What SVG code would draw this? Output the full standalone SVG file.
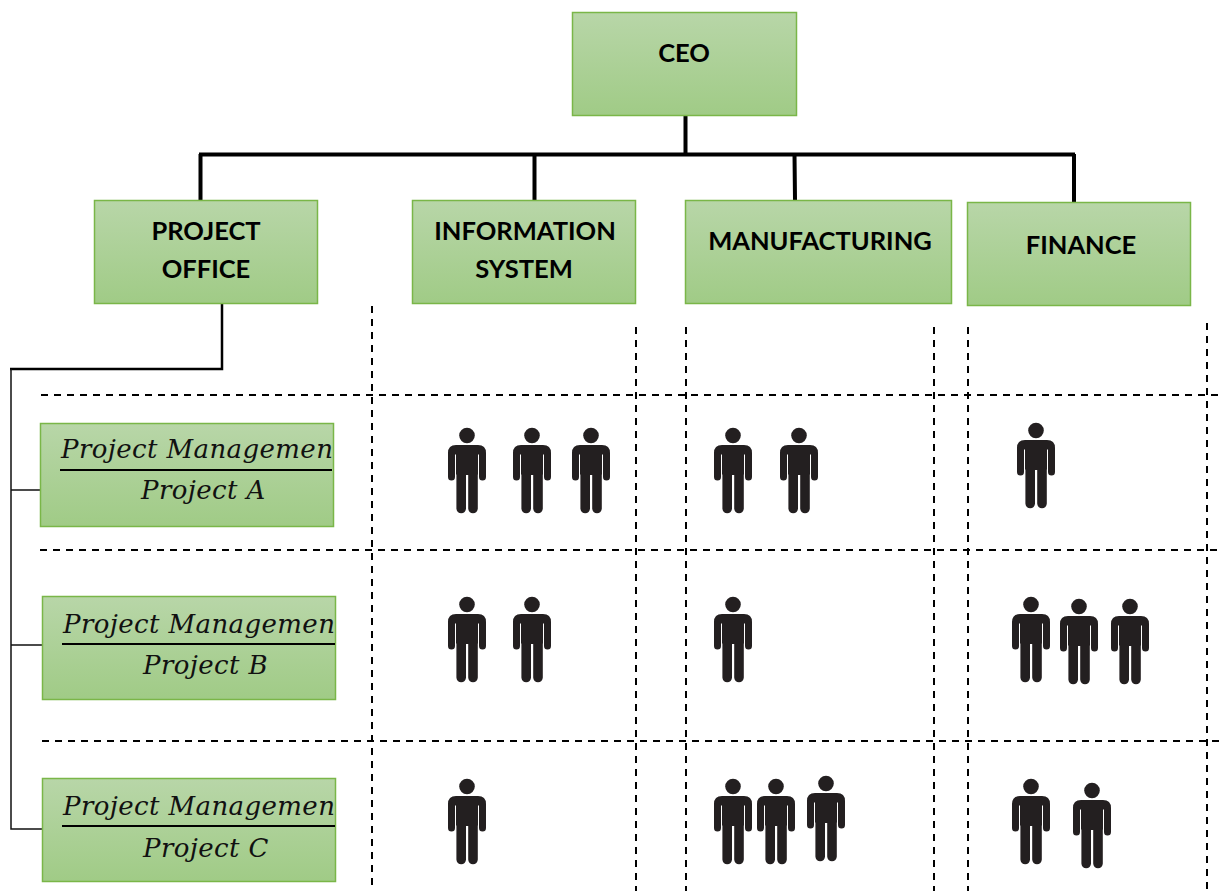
<svg xmlns="http://www.w3.org/2000/svg" width="1219" height="891" viewBox="0 0 1219 891">
<style>
.box{fill:url(#g);stroke:#7ab648;stroke-width:1.5}
.h{font:700 25.500px Lato,"Liberation Sans",sans-serif;fill:#000;text-anchor:middle}
.m{font:italic 26px "DejaVu Serif","Liberation Serif",serif;fill:#111;letter-spacing:.4px}
.thick{stroke:#000;stroke-width:4;fill:none}
.mid{stroke:#000;stroke-width:2.500;fill:none}
.thin{stroke:#111;stroke-width:1.500;fill:none}
.dash{stroke:#000;stroke-width:2;stroke-dasharray:7 6;fill:none}
.frac{stroke:#000;stroke-width:2}
</style>
<defs>
<linearGradient id="g" x1="0" y1="0" x2="0" y2="1"><stop offset="0" stop-color="#b8d6a8"/><stop offset="1" stop-color="#a0cb86"/></linearGradient>
<g id="p" fill="#231f20"><circle cx="19" cy="7.500" r="7.800"/><path d="M8 17H30Q38 17 38 25V49a3.500 3.500 0 0 1-7 0V26.500H30V46.500H29.800V80.500a4.800 4.800 0 0 1-9.600 0V47H18V80.500a4.800 4.800 0 0 1-9.600 0V46.500H8V26.500H7V49a3.500 3.500 0 0 1-7 0V25Q0 17 8 17Z"/></g>
<clipPath id="ca"><rect x="40" y="424" width="292" height="102"/></clipPath>
<clipPath id="cb"><rect x="42" y="597" width="294" height="102"/></clipPath>
<clipPath id="cc"><rect x="42" y="778" width="294" height="102"/></clipPath>
</defs>
<g id="connectors">
<path class="thick" d="M685.500 115V154M199 154.500H1075M200.500 154V200M534.500 154V200M794.500 154L795 200M1074 154V202"/>
<path class="mid" d="M222 303V369H10"/>
<path class="thin" d="M11 369V829H42M11 490H40M11 645H42"/>
</g>
<g id="grid">
<path class="dash" d="M41 395H1219M40 550H1219M42 741H1219"/>
<path class="dash" d="M372 306V891M636 327V891M686 327V891M934 327V891M968 327V891M1207 323V891"/>
</g>
<g id="ceo"><rect class="box" x="572.500" y="12.500" width="224" height="103"/><text class="h" x="684" y="62">CEO</text></g>
<g id="project-office"><rect class="box" x="94.500" y="200.500" width="223" height="103"/><text class="h" x="206" y="240">PROJECT</text><text class="h" x="206" y="278">OFFICE</text></g>
<g id="information-system"><rect class="box" x="412.500" y="200.500" width="223" height="103"/><text class="h" x="525" y="240">INFORMATION</text><text class="h" x="524" y="278">SYSTEM</text></g>
<g id="manufacturing"><rect class="box" x="685.500" y="200.500" width="266" height="103"/><text class="h" x="820" y="250">MANUFACTURING</text></g>
<g id="finance"><rect class="box" x="967.500" y="202.500" width="223" height="103"/><text class="h" x="1081" y="254">FINANCE</text></g>
<g id="project-a"><rect class="box" x="40.500" y="423.500" width="293" height="103"/><g clip-path="url(#ca)"><text class="m" x="61" y="458">Project Management</text></g><line class="frac" x1="60" y1="470" x2="332" y2="470"/><text class="m" x="141" y="499">Project A</text></g>
<g id="project-b"><rect class="box" x="42.500" y="596.500" width="293" height="103"/><g clip-path="url(#cb)"><text class="m" x="63" y="633">Project Management</text></g><line class="frac" x1="62" y1="644" x2="335" y2="644"/><text class="m" x="143" y="674">Project B</text></g>
<g id="project-c"><rect class="box" x="42.500" y="778.500" width="293" height="103"/><g clip-path="url(#cc)"><text class="m" x="63" y="815">Project Management</text></g><line class="frac" x1="62" y1="826" x2="335" y2="826"/><text class="m" x="143" y="857">Project C</text></g>
<g id="people">
<use href="#p" x="448" y="428"/><use href="#p" x="513" y="428"/><use href="#p" x="572" y="428"/>
<use href="#p" x="714" y="428"/><use href="#p" x="780" y="428"/><use href="#p" x="1017" y="423"/>
<use href="#p" x="448" y="597"/><use href="#p" x="513" y="597"/><use href="#p" x="714" y="597"/>
<use href="#p" x="1012" y="597"/><use href="#p" x="1060" y="599"/><use href="#p" x="1111" y="599"/>
<use href="#p" x="448" y="779"/><use href="#p" x="714" y="779"/><use href="#p" x="757" y="779"/><use href="#p" x="807" y="776"/>
<use href="#p" x="1012" y="779"/><use href="#p" x="1073" y="783"/>
</g>
</svg>
